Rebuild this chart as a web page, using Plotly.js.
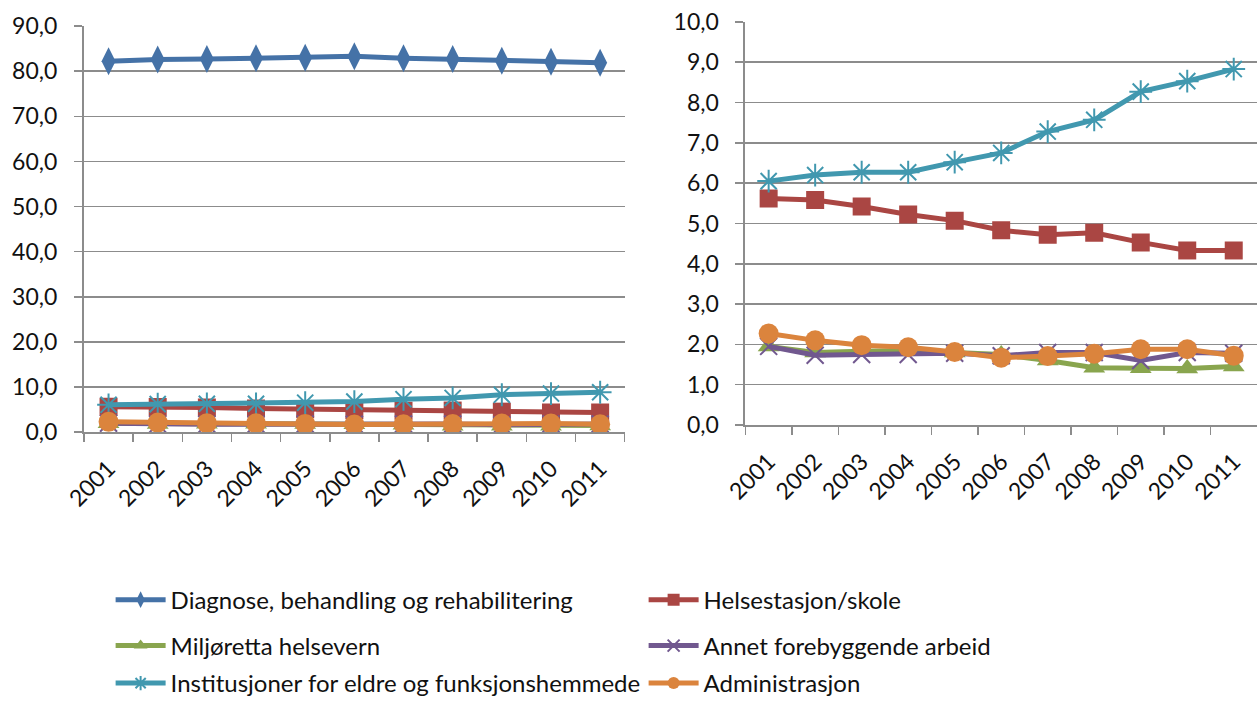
<!DOCTYPE html>
<html>
<head>
<meta charset="utf-8">
<script src="https://cdn.plot.ly/plotly-3.0.1.min.js"></script>
<style>html,body{margin:0;padding:0;background:#fff;}#chart{width:1257px;height:706px;}</style>
</head>
<body>
<div id="chart"></div>
<script>
var years = ["2001","2002","2003","2004","2005","2006","2007","2008","2009","2010","2011"];
var diagnose = [82.2, 82.6, 82.7, 82.9, 83.0, 83.3, 82.9, 82.7, 82.3, 82.1, 81.9];
var helsestasjon = [5.62, 5.58, 5.42, 5.22, 5.07, 4.83, 4.72, 4.77, 4.53, 4.33, 4.33];
var miljoretta = [1.95, 1.80, 1.83, 1.85, 1.80, 1.75, 1.60, 1.42, 1.41, 1.40, 1.45];
var annet = [1.95, 1.73, 1.75, 1.75, 1.78, 1.72, 1.80, 1.80, 1.60, 1.80, 1.78];
var institusjoner = [6.05, 6.20, 6.27, 6.27, 6.52, 6.75, 7.28, 7.57, 8.27, 8.53, 8.83];
var administrasjon = [2.27, 2.10, 1.98, 1.93, 1.81, 1.67, 1.71, 1.77, 1.88, 1.88, 1.72];

var seriesNames = ["Diagnose, behandling og rehabilitering", "Helsestasjon/skole", "Miljøretta helsevern", "Annet forebyggende arbeid", "Institusjoner for eldre og funksjonshemmede", "Administrasjon"];
var seriesData = [diagnose, helsestasjon, miljoretta, annet, institusjoner, administrasjon];
var colors = ["#4572A7", "#AA4643", "#89A54E", "#71588F", "#4198AF", "#DB843D"];
var symbols = ["diamond-tall", "square", "triangle-up", "x-thin-open", "asterisk-open", "circle"];
var sizes = [20, 18, 19, 17, 19, 20];
var legendIds = ["legend", "legend", "legend2", "legend2", "legend3", "legend3"];

function marker(i) {
  return {symbol: symbols[i], size: sizes[i], color: colors[i],
    line: {color: colors[i], width: (symbols[i].indexOf("open") >= 0 ? 2 : 0)}};
}

var traces = [];
for (var i = 0; i < seriesNames.length; i++) {
  traces.push({x: years, y: seriesData[i], name: seriesNames[i], type: "scatter", mode: "lines+markers",
    line: {color: colors[i], width: 5}, marker: marker(i), xaxis: "x", yaxis: "y",
    showlegend: true, legend: legendIds[i], hoverinfo: "skip"});
}
for (var j = 1; j < seriesNames.length; j++) {
  traces.push({x: years, y: seriesData[j], name: seriesNames[j], type: "scatter", mode: "lines+markers",
    line: {color: colors[j], width: 5}, marker: marker(j), xaxis: "x2", yaxis: "y2",
    showlegend: false, hoverinfo: "skip"});
}

var fontFam = "Lato, 'Noto Sans', sans-serif";
var gridC = "#8c8c8c";
function xax(dom, anchor) {
  return {domain: dom, anchor: anchor, type: "category", range: [-0.5, 10.5], autorange: false, automargin: false,
    tickangle: -45, showgrid: false, showline: true, ticklabelstandoff: 12,
    linecolor: gridC, linewidth: 2, ticks: "outside", tickson: "boundaries", ticklen: 8, tickcolor: gridC, tickwidth: 1.5,
    tickfont: {family: fontFam, size: 23, color: "#111"}, fixedrange: true, zeroline: false};
}
function yax(dom, anchor, rng, dt) {
  return {domain: dom, anchor: anchor, range: rng, autorange: false, automargin: false, dtick: dt, tickformat: ".1f",
    showgrid: true, gridcolor: gridC, ticklabelstandoff: 12,
    gridwidth: 1.5, showline: true, linecolor: gridC, linewidth: 2, ticks: "outside", ticklen: 8, tickcolor: gridC, tickwidth: 1.5,
    tickfont: {family: fontFam, size: 23, color: "#111"}, zeroline: false, fixedrange: true};
}
function leg(yv, anchor) {
  return {orientation: "h", x: 0.088, xanchor: "left", y: yv, yanchor: anchor,
    entrywidth: 468, entrywidthmode: "pixels", itemwidth: 50, itemsizing: "constant",
    font: {family: fontFam, size: 24, color: "#111"}, bgcolor: "rgba(0,0,0,0)"};
}

var layout = {
  width: 1257, height: 706,
  margin: {l: 0, r: 0, t: 0, b: 0},
  paper_bgcolor: "#fff", plot_bgcolor: "#fff",
  separators: ", ",
  font: {family: fontFam, size: 23, color: "#111"},
  xaxis: xax([0.0668, 0.497], "y"),
  yaxis: yax([0.388, 0.963], "x", [0, 90], 10),
  xaxis2: xax([0.593, 1.0], "y2"),
  yaxis2: yax([0.398, 0.969], "x2", [0, 10], 1),
  legend: leg(0.150, "middle"),
  legend2: leg(0.085, "middle"),
  legend3: leg(0.0, "bottom"),
  showlegend: true
};

Plotly.newPlot("chart", traces, layout, {displayModeBar: false, staticPlot: true});
</script>
</body>
</html>
